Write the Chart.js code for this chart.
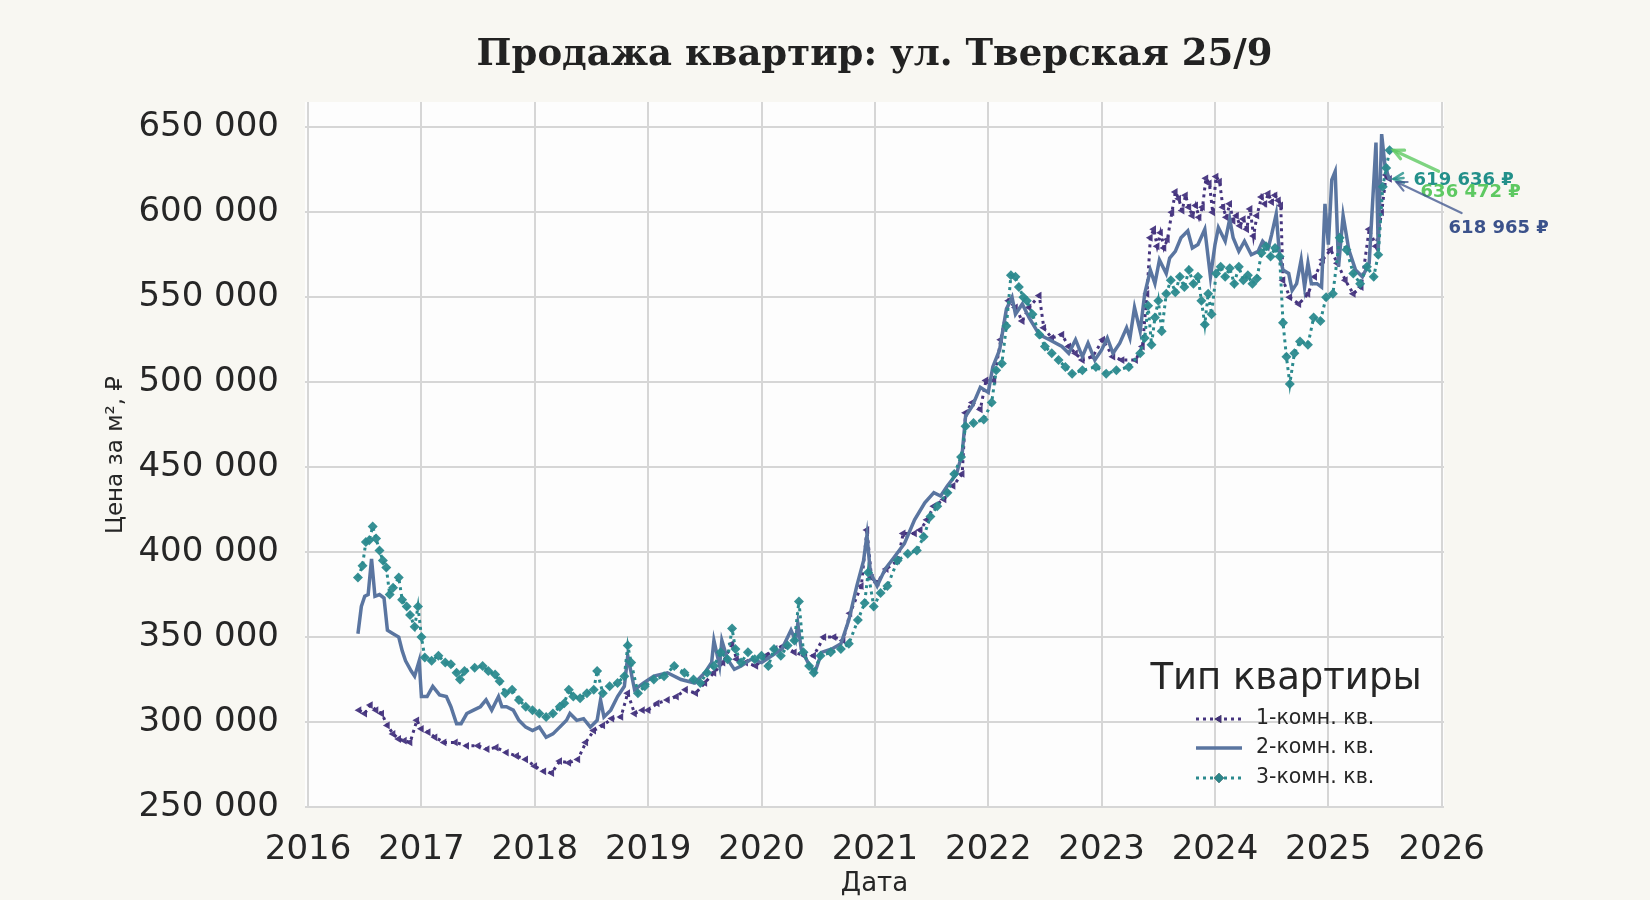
<!DOCTYPE html>
<html>
<head>
<meta charset="utf-8">
<script src="https://cdn.jsdelivr.net/npm/chart.js@4.4.1/dist/chart.umd.min.js"></script>
<style>
  html, body { margin: 0; padding: 0; background: #f8f7f2; }
  canvas { display: block; }
</style>
</head>
<body>
<canvas id="c" width="1650" height="900"></canvas>
<script>
// ---------- DATA (values in thousands of ₽ per m²) ----------
const seriesNames = ['1-комн. кв.', '2-комн. кв.', '3-комн. кв.'];

const dates1 = [
  2016.45,2016.50,2016.55,2016.60,2016.65,2016.70,2016.75,2016.80,2016.85,2016.90,2016.96,
  2017.00,2017.06,2017.12,2017.20,2017.30,2017.40,2017.50,2017.58,2017.66,2017.75,2017.84,2017.92,
  2018.00,2018.08,2018.15,2018.22,2018.30,2018.38,2018.45,2018.52,2018.60,2018.68,2018.76,2018.82,2018.88,2018.95,
  2019.00,2019.08,2019.17,2019.25,2019.33,2019.42,2019.50,2019.58,2019.66,2019.74,2019.78,2019.86,2019.95,
  2020.04,2020.12,2020.20,2020.29,2020.38,2020.46,2020.55,2020.64,2020.72,2020.78,2020.88,2020.93,2020.97,
  2021.02,2021.10,2021.20,2021.25,2021.35,2021.40,2021.46,2021.52,2021.61,2021.69,2021.77,2021.80,2021.86,2021.93,2021.98,
  2022.05,2022.11,2022.18,2022.24,2022.30,2022.36,2022.45,2022.49,2022.56,2022.65,2022.71,2022.77,2022.83,2022.92,
  2023.01,2023.10,2023.18,2023.30,2023.36,2023.40,2023.43,2023.46,2023.49,2023.52,2023.55,2023.58,2023.62,2023.65,2023.68,2023.71,2023.74,2023.77,2023.80,2023.83,2023.86,2023.89,2023.92,2023.95,2023.98,
  2024.01,2024.04,2024.07,2024.10,2024.13,2024.16,2024.19,2024.22,2024.25,2024.28,2024.31,2024.34,2024.37,2024.41,2024.44,2024.47,2024.50,2024.53,2024.56,2024.58,2024.60,2024.66,2024.74,2024.82,2024.88,2024.95,
  2025.02,2025.08,2025.15,2025.22,2025.29,2025.36,2025.42,2025.47,2025.51,2025.54
];
const values1 = [
  307,305,310,307,305,298,293,290,289,288,301,
  296,294,291,288,288,286,286,284,285,282,280,278,
  274,271,270,277,276,278,288,295,298,302,303,317,305,307,
  307,311,313,315,319,317,323,329,335,346,337,335,333,
  339,343,345,341,339,339,350,350,348,364,380,413,385,
  382,390,395,411,411,413,419,427,431,439,446,482,488,484,501,
  501,525,548,544,536,544,551,532,526,528,521,517,513,515,
  525,515,513,513,521,552,585,590,580,588,579,584,600,612,608,601,610,603,598,604,597,603,620,617,600,
  621,618,603,597,605,595,598,592,596,590,602,586,598,609,605,611,606,610,607,604,560,550,546,552,562,572,
  578,570,560,552,556,590,580,600,622,619.636
];

const dates2 = [
  2016.44,2016.47,2016.50,2016.53,2016.56,2016.59,2016.63,2016.67,2016.70,2016.75,2016.80,2016.83,2016.86,2016.91,2016.94,2016.98,
  2017.00,2017.05,2017.10,2017.16,2017.22,2017.26,2017.31,2017.35,2017.40,2017.46,2017.52,2017.57,2017.62,2017.68,2017.71,2017.75,2017.81,2017.86,2017.92,2017.98,
  2018.04,2018.10,2018.16,2018.22,2018.28,2018.31,2018.37,2018.43,2018.49,2018.55,2018.58,2018.61,2018.67,2018.73,2018.79,2018.82,2018.88,2018.96,
  2019.05,2019.17,2019.29,2019.41,2019.50,2019.56,2019.58,2019.63,2019.65,2019.70,2019.76,2019.82,2019.91,
  2020.00,2020.09,2020.18,2020.26,2020.30,2020.32,2020.35,2020.41,2020.47,2020.53,2020.62,2020.70,2020.77,2020.84,2020.90,2020.93,2020.96,
  2021.02,2021.09,2021.17,2021.26,2021.35,2021.44,2021.52,2021.58,2021.64,2021.72,2021.77,2021.80,2021.86,2021.93,
  2022.00,2022.04,2022.10,2022.16,2022.21,2022.24,2022.30,2022.36,2022.45,2022.54,2022.65,2022.71,2022.77,2022.83,2022.88,2022.94,
  2023.00,2023.05,2023.10,2023.16,2023.22,2023.25,2023.29,2023.34,2023.38,2023.43,2023.47,2023.51,2023.57,2023.60,2023.65,2023.70,2023.76,2023.80,2023.85,2023.91,2023.96,
  2024.00,2024.03,2024.09,2024.13,2024.16,2024.21,2024.26,2024.32,2024.38,2024.42,2024.47,2024.50,2024.54,2024.57,2024.60,2024.65,2024.68,2024.72,2024.76,2024.79,2024.82,2024.85,2024.90,2024.94,2024.97,
  2025.00,2025.03,2025.06,2025.09,2025.13,2025.18,2025.24,2025.30,2025.36,2025.42,2025.44,2025.47,2025.50,2025.54
];
const values2 = [
  352,368,374,375,396,374,375,373,354,352,350,342,336,330,327,336,
  315,315,321,316,315,309,299,299,305,307,309,313,307,315,309,309,307,301,297,295,
  297,291,293,297,301,305,301,302,297,301,313,303,307,315,321,339,319,323,
  327,329,325,323,329,335,348,333,348,337,331,333,337,
  335,339,343,354,348,358,343,335,329,341,343,346,360,380,395,410,388,
  380,390,397,405,419,429,435,433,439,446,458,480,486,497,
  494,509,519,543,550,540,546,538,528,525,521,517,525,515,523,513,
  519,526,517,523,532,526,544,530,552,566,558,572,564,573,577,585,589,579,581,590,562,
  581,591,583,596,585,577,583,575,577,583,579,587,599,574,566,564,554,558,572,556,570,558,558,556,605,
  581,619,624,568,598,578,566,562,570,641,578,646,627,618.965
];

const dates3 = [
  2016.44,2016.48,2016.51,2016.54,2016.57,2016.60,2016.63,2016.66,2016.69,2016.72,2016.75,2016.80,2016.83,2016.87,2016.90,2016.94,2016.97,
  2017.00,2017.03,2017.09,2017.15,2017.21,2017.26,2017.31,2017.34,2017.38,2017.47,2017.54,2017.59,2017.65,2017.69,2017.74,2017.80,2017.86,2017.92,2017.98,
  2018.04,2018.10,2018.16,2018.22,2018.26,2018.30,2018.34,2018.40,2018.46,2018.52,2018.55,2018.60,2018.66,2018.73,2018.79,2018.82,2018.85,2018.91,2018.97,
  2019.05,2019.14,2019.23,2019.32,2019.40,2019.46,2019.52,2019.58,2019.64,2019.70,2019.74,2019.77,2019.82,2019.88,2019.94,
  2020.00,2020.06,2020.11,2020.17,2020.23,2020.29,2020.33,2020.37,2020.42,2020.46,2020.52,2020.61,2020.70,2020.77,2020.85,2020.91,2020.94,2020.99,
  2021.05,2021.11,2021.20,2021.29,2021.37,2021.43,2021.49,2021.55,2021.64,2021.70,2021.76,2021.80,2021.87,2021.96,
  2022.03,2022.07,2022.12,2022.16,2022.20,2022.24,2022.27,2022.31,2022.34,2022.39,2022.45,2022.50,2022.56,2022.62,2022.68,2022.74,2022.83,2022.95,
  2023.04,2023.13,2023.24,2023.34,2023.38,2023.41,2023.44,2023.47,2023.50,2023.53,2023.57,2023.61,2023.65,2023.69,2023.73,2023.77,2023.81,2023.85,2023.88,2023.91,2023.94,2023.97,
  2024.01,2024.05,2024.09,2024.13,2024.17,2024.21,2024.25,2024.29,2024.33,2024.37,2024.41,2024.45,2024.49,2024.53,2024.57,2024.60,2024.63,2024.66,2024.70,2024.75,2024.82,2024.87,2024.93,2024.98,
  2025.04,2025.10,2025.16,2025.22,2025.28,2025.34,2025.40,2025.44,2025.48,2025.51,2025.54
];
const values3 = [
  385,392,406,407,415,408,401,395,391,375,379,385,372,368,363,356,368,
  350,338,336,339,335,334,329,325,330,332,333,330,328,324,317,319,313,309,307,
  305,303,305,309,311,319,315,314,317,319,330,317,321,323,327,345,335,317,321,
  325,327,333,329,325,323,329,333,341,337,355,343,335,341,337,
  339,333,343,339,345,348,371,341,333,329,339,341,343,346,360,370,388,368,
  376,380,395,399,401,409,421,427,435,446,456,474,476,478,
  488,507,511,533,563,562,556,550,548,540,528,521,517,513,509,505,507,509,
  505,507,509,517,526,545,522,538,548,530,552,560,553,562,556,566,558,562,548,534,552,540,
  564,568,562,567,558,568,560,563,558,561,576,580,574,579,574,535,515,499,517,524,522,538,536,550,
  552,585,578,564,558,568,562,575,615,626,636.472
];

const xTickYears = [2016,2017,2018,2019,2020,2021,2022,2023,2024,2025,2026];
const yTickValues = [250000,300000,350000,400000,450000,500000,550000,600000,650000];

// ---------- STYLE ----------
const UNIT = 1000;
const colors = ['#45347e', '#5a75a0', '#2b8a8e'];
const annColors = ['#23908a', '#3b528b', '#5ec962'];
const annArrowColors = ['rgba(35,144,138,0.8)', 'rgba(59,82,139,0.75)', 'rgba(94,201,98,0.8)'];

function pts(d, v) { return d.map((x, i) => ({ x: x, y: v[i] * UNIT })); }
function fmt(n) { return String(Math.round(n)).replace(/\B(?=(\d{3})+(?!\d))/g, ' '); }

const datasets = [
  { label: seriesNames[0], data: pts(dates1, values1), borderColor: colors[0], backgroundColor: colors[0],
    borderWidth: 3, borderDash: [3, 4], pointStyle: 'triangle', rotation: -90, pointRadius: 4.5,
    pointBorderWidth: 0, pointBackgroundColor: 'rgba(69,52,126,0.95)', order: 3, tension: 0 },
  { label: seriesNames[1], data: pts(dates2, values2), borderColor: colors[1], backgroundColor: colors[1],
    borderWidth: 3.5, pointRadius: 0, order: 2, tension: 0 },
  { label: seriesNames[2], data: pts(dates3, values3), borderColor: colors[2], backgroundColor: colors[2],
    borderWidth: 3, borderDash: [3, 4], pointStyle: 'rectRot', pointRadius: 5,
    pointBorderWidth: 0, pointBackgroundColor: 'rgba(43,138,142,0.95)', order: 1, tension: 0 }
];

const bgPlugin = {
  id: 'bg',
  beforeDraw(chart) {
    const ctx = chart.ctx, a = chart.chartArea;
    ctx.save();
    ctx.fillStyle = '#f8f7f2';
    ctx.fillRect(0, 0, chart.width, chart.height);
    ctx.fillStyle = '#fdfdfd';
    ctx.fillRect(a.left, a.top, a.right - a.left, a.bottom - a.top);
    ctx.restore();
  }
};

function arrow(ctx, x1, y1, x2, y2, color, lw, head) {
  ctx.save();
  ctx.strokeStyle = color; ctx.lineWidth = lw; ctx.lineCap = 'round';
  ctx.beginPath(); ctx.moveTo(x1, y1); ctx.lineTo(x2, y2); ctx.stroke();
  const ang = Math.atan2(y2 - y1, x2 - x1);
  ctx.beginPath();
  ctx.moveTo(x2 - head * Math.cos(ang - 0.45), y2 - head * Math.sin(ang - 0.45));
  ctx.lineTo(x2, y2);
  ctx.lineTo(x2 - head * Math.cos(ang + 0.45), y2 - head * Math.sin(ang + 0.45));
  ctx.stroke();
  ctx.restore();
}

const overlayPlugin = {
  id: 'overlay',
  afterDraw(chart) {
    const ctx = chart.ctx, a = chart.chartArea;
    const xs = chart.scales.x, ys = chart.scales.y;
    // title
    ctx.save();
    ctx.fillStyle = '#222222';
    ctx.font = 'bold 37px "DejaVu Serif"';
    ctx.textAlign = 'center'; ctx.textBaseline = 'middle';
    ctx.fillText('Продажа квартир: ул. Тверская 25/9', (a.left + a.right) / 2, 55);
    ctx.restore();

    // annotations for last values
    const lasts = [
      { d: dates1[dates1.length - 1], v: values1[values1.length - 1] },
      { d: dates2[dates2.length - 1], v: values2[values2.length - 1] },
      { d: dates3[dates3.length - 1], v: values3[values3.length - 1] }
    ];
    const offs = [
      { tx: 24, ty: 1, ax: 14, ay: -1, hx: 4, hy: 0, lw: 2.5 },
      { tx: 59, ty: 48, ax: 72, ay: 33, hx: 7, hy: 2, lw: 2.2 },
      { tx: 31, ty: 42, ax: 49, ay: 21, hx: 4, hy: 0, lw: 3.2 }
    ];
    [0, 2, 1].forEach(i => {
      const px = xs.getPixelForValue(lasts[i].d);
      const py = ys.getPixelForValue(lasts[i].v * UNIT);
      const o = offs[i];
      arrow(ctx, px + o.ax, py + o.ay, px + o.hx, py + o.hy, annArrowColors[i], o.lw, 11);
      ctx.save();
      ctx.fillStyle = annColors[i];
      ctx.font = 'bold 18px "DejaVu Sans"';
      ctx.textAlign = 'left'; ctx.textBaseline = 'middle';
      ctx.fillText(fmt(lasts[i].v * UNIT) + ' ₽', px + o.tx, py + o.ty);
      ctx.restore();
    });

    // legend
    const lx = a.right - 158;
    ctx.save();
    ctx.fillStyle = '#262626';
    ctx.font = '37px "DejaVu Sans"';
    ctx.textAlign = 'center'; ctx.textBaseline = 'middle';
    ctx.fillText('Тип квартиры', lx, a.bottom - 129);
    const rows = [a.bottom - 89, a.bottom - 60, a.bottom - 30];
    const h0 = a.right - 248, h1 = a.right - 202;
    chart.data.datasets.forEach((ds, i) => {
      const y = rows[i];
      ctx.save();
      ctx.strokeStyle = ds.borderColor; ctx.lineWidth = ds.borderWidth;
      ctx.setLineDash(ds.borderDash || []);
      ctx.beginPath(); ctx.moveTo(h0, y); ctx.lineTo(h1, y); ctx.stroke();
      ctx.restore();
      if (ds.pointRadius > 0) {
        Chart.helpers.drawPoint(ctx, { pointStyle: ds.pointStyle, rotation: ds.rotation || 0,
          radius: ds.pointRadius, borderWidth: 0 }, (h0 + h1) / 2, y);
        ctx.fillStyle = ds.pointBackgroundColor;
        ctx.fill();
      }
      ctx.fillStyle = '#262626';
      ctx.font = '20.5px "DejaVu Sans"';
      ctx.textAlign = 'left';
      ctx.fillText(ds.label, a.right - 188, y);
    });
    ctx.restore();
  }
};

new Chart(document.getElementById('c'), {
  type: 'line',
  data: { datasets: datasets },
  plugins: [bgPlugin, overlayPlugin],
  options: {
    responsive: false,
    devicePixelRatio: 1,
    animation: false,
    parsing: true,
    layout: { padding: { top: 102, right: 206, bottom: 0, left: 0 } },
    plugins: { legend: { display: false }, title: { display: false }, tooltip: { enabled: false } },
    scales: {
      x: {
        type: 'linear', min: 2015.973, max: 2026.02,
        afterFit(s) { s.height = 92; },
        afterBuildTicks(s) { s.ticks = xTickYears.map(v => ({ value: v })); },
        grid: { color: '#d6d6d6', lineWidth: 2, drawTicks: false },
        border: { display: false },
        ticks: { padding: 22, color: '#262626', font: { family: 'DejaVu Sans', size: 34 },
          maxRotation: 0, autoSkip: false, callback: v => String(v) },
        title: { display: true, text: 'Дата', color: '#262626',
          font: { family: 'DejaVu Sans', size: 26 }, padding: { top: 0, bottom: 0 } }
      },
      y: {
        type: 'linear', min: 249400, max: 664900,
        afterFit(s) { s.width = 305; },
        afterBuildTicks(s) { s.ticks = yTickValues.map(v => ({ value: v })); },
        grid: { color: '#d6d6d6', lineWidth: 2, drawTicks: false },
        border: { display: false },
        ticks: { padding: 26, color: '#262626', font: { family: 'DejaVu Sans', size: 34 },
          autoSkip: false, callback: v => fmt(v) },
        title: { display: true, text: 'Цена за м², ₽', color: '#262626',
          font: { family: 'DejaVu Sans', size: 23 }, padding: { top: 102, bottom: 0 } }
      }
    }
  }
});
</script>
</body>
</html>
